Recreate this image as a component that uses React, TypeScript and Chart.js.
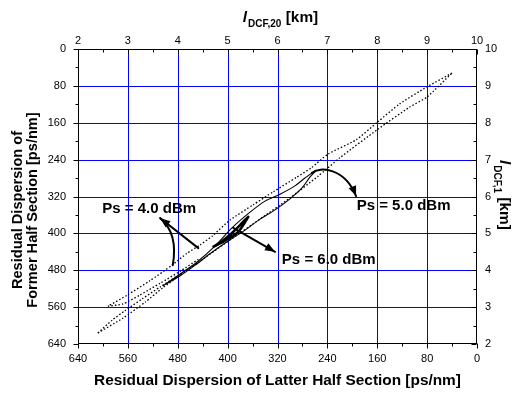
import React, { useEffect, useRef } from "react";
import { Chart, registerables } from "chart.js";

Chart.register(...registerables);

const FONT = '"Liberation Sans", Arial, sans-serif';

// Tick labels
const latterTicks = [640, 560, 480, 400, 320, 240, 160, 80, 0];
const formerTicks = [0, 80, 160, 240, 320, 400, 480, 560, 640];
const lenTopTicks = [2, 3, 4, 5, 6, 7, 8, 9, 10];
const lenRightTicks = [2, 3, 4, 5, 6, 7, 8, 9, 10];

// Curves: [latter-half dispersion, former-half dispersion] in ps/nm
const dotLower: [number, number][] = [
  [608, 616], [568, 584], [532, 549], [504, 518], [444, 460], [396, 414], [348, 369],
  [300, 323], [255, 276], [220, 236], [159, 174], [108, 126], [80, 104], [40, 52],
];
const dotUpper: [number, number][] = [
  [40, 52], [80, 82], [124, 119], [159, 158], [194, 197], [239, 228], [266, 258],
  [289, 278], [327, 310], [359, 338], [396, 371], [425, 406], [444, 425], [465, 443],
  [489, 469], [525, 503], [561, 534], [592, 558],
];
const dotInner1: [number, number][] = [
  [592, 558], [568, 553], [541, 534], [508, 508], [476, 482], [447, 456],
];
const dotInner2: [number, number][] = [
  [608, 616], [585, 588], [565, 568], [537, 542], [508, 516], [476, 488], [447, 462],
];
const solid5Loop: [number, number][] = [
  [504, 514], [476, 488], [449, 462], [420, 427], [393, 388], [364, 354], [340, 330],
  [316, 315], [292, 297], [276, 280], [258, 263],
  [268, 278], [281, 302], [300, 325], [324, 349], [348, 369], [372, 393], [396, 414],
  [424, 440], [452, 469], [476, 492], [504, 514],
];
const bold6Loop: [number, number][] = [
  [424, 430], [409, 417], [393, 399], [380, 382], [367, 364], [374, 380], [383, 397],
  [399, 412], [414, 423], [424, 430],
];

// Annotations (data units)
const annoLabels: { text: string; at: [number, number] }[] = [
  { text: "Ps = 4.0 dBm", at: [601, 347] },
  { text: "Ps = 5.0 dBm", at: [193, 341] },
  { text: "Ps = 6.0 dBm", at: [313, 458] },
];
const arrow4Straight: [number, number][] = [[447, 432], [508, 367]];
const arrow4Curve: [number, number][] = [[488, 469], [479, 400], [508, 367]];
const arrow5Curve: [number, number][] = [[265, 269], [252, 254], [212, 258], [194, 319]];
const arrow6Straight: [number, number][] = [[391, 388], [324, 440]];

function toPts(a: [number, number][]) {
  return a.map(([x, y]) => ({ x, y }));
}

function head(ctx: CanvasRenderingContext2D, tip: number[], from: number[]) {
  const ang = Math.atan2(tip[1] - from[1], tip[0] - from[0]);
  const L = 10, W = 4;
  const bx = tip[0] - L * Math.cos(ang), by = tip[1] - L * Math.sin(ang);
  ctx.beginPath();
  ctx.moveTo(tip[0], tip[1]);
  ctx.lineTo(bx + W * Math.sin(ang), by - W * Math.cos(ang));
  ctx.lineTo(bx - W * Math.sin(ang), by + W * Math.cos(ang));
  ctx.closePath();
  ctx.fill();
}

const decor = {
  id: "decor",
  beforeDatasetsDraw(chart: any) {
    const ctx: CanvasRenderingContext2D = chart.ctx;
    const { left, right, top, bottom } = chart.chartArea;
    const sx = chart.scales.x, sy = chart.scales.y;
    ctx.save();
    ctx.strokeStyle = "#0000ff";
    ctx.lineWidth = 1;
    ctx.beginPath();
    for (const v of latterTicks) {
      if (v === 0 || v === 640) continue;
      const x = Math.round(sx.getPixelForValue(v)) + 0.5;
      ctx.moveTo(x, top); ctx.lineTo(x, bottom);
    }
    for (const v of formerTicks) {
      if (v === 0 || v === 640) continue;
      const y = Math.round(sy.getPixelForValue(v)) + 0.5;
      ctx.moveTo(left, y); ctx.lineTo(right, y);
    }
    ctx.stroke();
    ctx.restore();
  },
  afterDatasetsDraw(chart: any) {
    const ctx: CanvasRenderingContext2D = chart.ctx;
    const sx = chart.scales.x, sy = chart.scales.y;
    const P = (p: [number, number]) => [sx.getPixelForValue(p[0]), sy.getPixelForValue(p[1])];
    ctx.save();
    ctx.strokeStyle = "#000";
    ctx.fillStyle = "#000";
    ctx.lineWidth = 2;
    ctx.lineCap = "round";
    {
      const a = P(arrow4Straight[0]), b = P(arrow4Straight[1]);
      ctx.beginPath(); ctx.moveTo(a[0], a[1]); ctx.lineTo(b[0], b[1]); ctx.stroke();
      head(ctx, b, a);
    }
    {
      const a = P(arrow4Curve[0]), c = P(arrow4Curve[1]), b = P(arrow4Curve[2]);
      ctx.beginPath(); ctx.moveTo(a[0], a[1]); ctx.quadraticCurveTo(c[0], c[1], b[0], b[1]); ctx.stroke();
    }
    {
      const a = P(arrow5Curve[0]), c1 = P(arrow5Curve[1]), c2 = P(arrow5Curve[2]), b = P(arrow5Curve[3]);
      ctx.beginPath(); ctx.moveTo(a[0], a[1]);
      ctx.bezierCurveTo(c1[0], c1[1], c2[0], c2[1], b[0], b[1]); ctx.stroke();
      head(ctx, b, c2);
    }
    {
      const a = P(arrow6Straight[0]), b = P(arrow6Straight[1]);
      ctx.beginPath(); ctx.moveTo(a[0], a[1]); ctx.lineTo(b[0], b[1]); ctx.stroke();
      head(ctx, b, a);
    }
    ctx.font = `bold 15px ${FONT}`;
    ctx.textAlign = "left";
    ctx.textBaseline = "middle";
    for (const l of annoLabels) {
      const p = P(l.at);
      ctx.fillText(l.text, p[0], p[1]);
    }
    ctx.restore();
  },
  afterDraw(chart: any) {
    const ctx: CanvasRenderingContext2D = chart.ctx;
    const { left, right, top, bottom } = chart.chartArea;
    const L = Math.round(left) + 0.5, R = Math.round(right) - 0.5;
    const T = Math.round(top) + 0.5, B = Math.round(bottom) - 0.5;
    ctx.save();
    ctx.strokeStyle = "#000";
    ctx.lineWidth = 1;
    ctx.strokeRect(L, T, R - L, B - T);
    const sx = chart.scales.x, sy = chart.scales.y, sx2 = chart.scales.x2, sy2 = chart.scales.y2;
    ctx.beginPath();
    for (let v = 0; v <= 640; v += 40) {
      const len = v % 80 === 0 ? 5 : 3;
      const x = Math.round(sx.getPixelForValue(v)) + 0.5;
      ctx.moveTo(x, B); ctx.lineTo(x, B + len);
      const y = Math.round(sy.getPixelForValue(v)) + 0.5;
      ctx.moveTo(L, y); ctx.lineTo(L - len, y);
    }
    for (let i = 0; i <= 16; i++) {
      const v = 2 + i * 0.5;
      const len = i % 2 === 0 ? 5 : 3;
      const x = Math.round(sx2.getPixelForValue(v)) + 0.5;
      ctx.moveTo(x, T); ctx.lineTo(x, T + len);
      const y = Math.round(sy2.getPixelForValue(v)) + 0.5;
      ctx.moveTo(R, y); ctx.lineTo(R - len, y);
    }
    ctx.stroke();

    ctx.fillStyle = "#000";
    ctx.font = `bold 15.4px ${FONT}`;
    ctx.textAlign = "center";
    ctx.textBaseline = "middle";
    ctx.fillText("Residual Dispersion of Latter Half Section [ps/nm]", (left + right) / 2, 381);
    ctx.save();
    ctx.font = `bold 14.6px ${FONT}`;
    ctx.translate(18, 210);
    ctx.rotate(-Math.PI / 2);
    ctx.fillText("Residual Dispersion of", 0, 0);
    ctx.restore();
    ctx.save();
    ctx.font = `bold 14.6px ${FONT}`;
    ctx.translate(33, 210);
    ctx.rotate(-Math.PI / 2);
    ctx.fillText("Former Half Section [ps/nm]", 0, 0);
    ctx.restore();

    const measure = (sub: string) => {
      ctx.textAlign = "left";
      ctx.textBaseline = "alphabetic";
      ctx.font = `italic bold 15.4px ${FONT}`;
      const w1 = ctx.measureText("l").width;
      ctx.font = `bold 10px ${FONT}`;
      const w2 = ctx.measureText(sub).width;
      ctx.font = `bold 15.4px ${FONT}`;
      const w3 = ctx.measureText(" [km]").width;
      return { w1, w2, w3, w: w1 + w2 + w3 + 1 };
    };
    {
      const m = measure("DCF,20");
      const x0 = (left + right) / 2 + 3 - m.w / 2;
      ctx.font = `italic bold 15.4px ${FONT}`;
      ctx.fillText("l", x0, 21.5);
      ctx.font = `bold 10px ${FONT}`;
      ctx.fillText("DCF,20", x0 + m.w1 + 1, 27);
      ctx.font = `bold 15.4px ${FONT}`;
      ctx.fillText(" [km]", x0 + m.w1 + 1 + m.w2, 21.5);
    }
    {
      const m = measure("DCF,1");
      ctx.save();
      ctx.translate(500, 195 - m.w / 2);
      ctx.rotate(Math.PI / 2);
      ctx.font = `italic bold 15.4px ${FONT}`;
      ctx.fillText("l", 0, 0);
      ctx.font = `bold 10px ${FONT}`;
      ctx.fillText("DCF,1", m.w1 + 1, 6);
      ctx.font = `bold 15.4px ${FONT}`;
      ctx.fillText(" [km]", m.w1 + 1 + m.w2, 0);
      ctx.restore();
    }
    ctx.restore();
  },
};

export default function App() {
  const ref = useRef<HTMLCanvasElement>(null);
  useEffect(() => {
    document.body.style.margin = "0";
    const canvas = ref.current!;
    const tickFont = { family: FONT, size: 11 };
    const dotted = (d: [number, number][]) => ({
      data: toPts(d),
      showLine: true,
      borderColor: "#000",
      borderWidth: 1.3,
      borderDash: [1.5, 2],
      pointRadius: 0,
      tension: 0.2,
      xAxisID: "x",
      yAxisID: "y",
    });
    const noGrid = { display: false, drawTicks: false };
    const chart = new Chart(canvas, {
      type: "scatter",
      data: {
        datasets: [
          dotted(dotLower),
          dotted(dotUpper),
          dotted(dotInner1),
          dotted(dotInner2),
          {
            data: toPts(solid5Loop),
            showLine: true,
            borderColor: "#000",
            borderWidth: 1.1,
            pointRadius: 0,
            tension: 0.3,
            xAxisID: "x",
            yAxisID: "y",
          },
          {
            data: toPts(bold6Loop),
            showLine: true,
            borderColor: "#000",
            borderWidth: 2.6,
            pointRadius: 0,
            tension: 0.1,
            xAxisID: "x",
            yAxisID: "y",
          },
        ],
      },
      options: {
        animation: false,
        responsive: false,
        devicePixelRatio: 1,
        layout: { padding: 0 },
        plugins: { legend: { display: false }, tooltip: { enabled: false } },
        scales: {
          x: {
            type: "linear",
            position: "bottom",
            min: 0,
            max: 640,
            reverse: true,
            afterBuildTicks: (s: any) => {
              s.ticks = latterTicks.map((v) => ({ value: v }));
            },
            afterFit: (s: any) => {
              s.height = 50;
            },
            ticks: { font: tickFont, color: "#000", padding: 8, maxRotation: 0, autoSkip: false },
            grid: noGrid,
            border: { display: false },
          },
          x2: {
            type: "linear",
            position: "top",
            min: 2,
            max: 10,
            afterBuildTicks: (s: any) => {
              s.ticks = lenTopTicks.map((v) => ({ value: v }));
            },
            afterFit: (s: any) => {
              s.height = 49;
            },
            ticks: { font: tickFont, color: "#000", padding: 1, maxRotation: 0, autoSkip: false },
            grid: noGrid,
            border: { display: false },
          },
          y: {
            type: "linear",
            position: "left",
            min: 0,
            max: 640,
            reverse: true,
            afterBuildTicks: (s: any) => {
              s.ticks = formerTicks.map((v) => ({ value: v }));
            },
            afterFit: (s: any) => {
              s.width = 78;
            },
            ticks: { font: tickFont, color: "#000", padding: 12, autoSkip: false },
            grid: noGrid,
            border: { display: false },
          },
          y2: {
            type: "linear",
            position: "right",
            min: 2,
            max: 10,
            afterBuildTicks: (s: any) => {
              s.ticks = lenRightTicks.map((v) => ({ value: v }));
            },
            afterFit: (s: any) => {
              s.width = 43;
            },
            ticks: { font: tickFont, color: "#000", padding: 8, autoSkip: false },
            grid: noGrid,
            border: { display: false },
          },
        },
      },
      plugins: [decor],
    } as any);
    return () => chart.destroy();
  }, []);
  return <canvas ref={ref} width={520} height={394} style={{ display: "block" }} />;
}
